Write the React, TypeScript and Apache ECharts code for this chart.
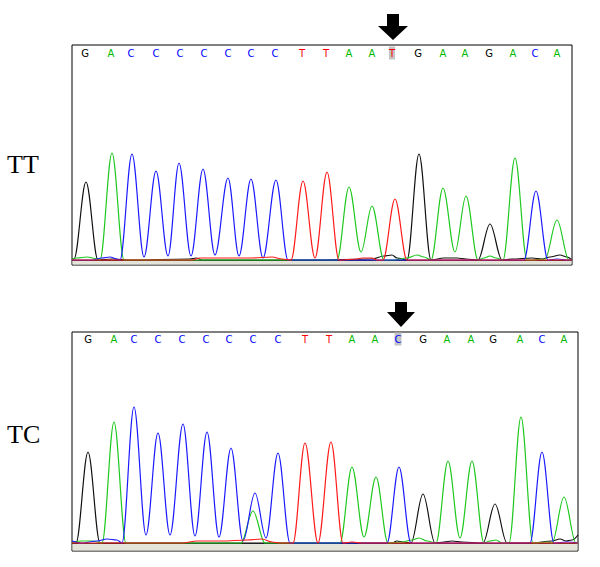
import React, { useEffect, useRef } from "react";
import * as echarts from "echarts";

// ---- Base calls ----
const topBases = ["G","A","C","C","C","C","C","C","C","T","T","A","A","T","G","A","A","G","A","C","A"];
const topBasePos = [13,39,59,84,108,132,156,179,203,230,254,277,300,320,346,371,393,417,441,463,485];
const topHighlight = 13;
const botBases = ["G","A","C","C","C","C","C","C","C","T","T","A","A","C","G","A","A","G","A","C","A"];
const botBasePos = [16,42,62,86,110,134,157,181,206,233,257,280,303,326,351,375,399,421,448,470,492];
const botHighlight = 13;

// ---- Top (TT) traces: [scan position, signal] ----
const topBlack = [[0,1],[2,1],[14,78],[26,0],[40,1],[60,0],[118,1],[124,2],[130,0],[200,0],[240,0],[300,1],[312,4],[320,5],[325,2],[335,0],[347,106],[359,0],[372,2],[385,2],[394,1],[406,0],[418,36],[430,0],[440,1],[460,2],[470,1],[478,3],[488,5],[495,3],[500,0]];
const topGreen = [[0,1],[5,2],[15,3],[26,1],[28,0],[40,107],[52,0],[60,0],[150,0],[200,0],[260,0],[265,0],[277,73],[289,8],[300,54],[312,0],[322,0],[335,2],[345,5],[352,3],[359,0],[371,72],[383,8],[394,64],[406,0],[412,2],[418,4],[424,2],[431,0],[443,102],[455,0],[460,0],[473,1],[485,40],[497,0],[500,0]];
const topBlue = [[0,0],[20,0],[30,2],[38,3],[45,1],[48,0],[60,106],[72,3],[84,89],[96,4],[107,97],[119,4],[131,91],[143,5],[156,82],[167,4],[179,81],[191,2],[204,80],[216,0],[300,0],[440,0],[452,0],[464,69],[476,0],[485,1],[495,0],[500,0]];
const topRed = [[0,0],[100,0],[120,0],[128,2],[180,2],[200,3],[210,1],[219,0],[231,79],[243,2],[255,88],[267,0],[285,1],[290,2],[300,2],[305,0],[311,0],[323,61],[335,0],[360,0],[500,0]];

// ---- Bottom (TC) traces ----
const botBlack = [[0,0],[4,0],[16,91],[28,0],[100,0],[200,0],[320,0],[325,2],[331,1],[339,0],[351,49],[363,0],[372,1],[380,2],[390,1],[411,0],[423,39],[435,0],[460,0],[480,2],[488,4],[494,2],[500,3],[506,8]];
const botGreen = [[0,1],[10,2],[20,2],[30,0],[42,121],[54,0],[120,0],[169,0],[181,32],[193,0],[200,0],[230,0],[260,0],[268,0],[280,76],[292,6],[304,66],[316,0],[330,1],[340,3],[347,5],[355,2],[364,0],[376,82],[388,5],[400,82],[412,0],[418,2],[424,3],[430,0],[437,0],[449,126],[461,0],[475,1],[480,0],[492,46],[504,0],[506,0]];
const botBlue = [[0,2],[10,0],[25,2],[35,4],[45,3],[50,0],[62,136],[74,8],[86,110],[98,8],[111,119],[123,7],[135,111],[147,6],[159,95],[171,2],[183,50],[194,5],[206,90],[218,0],[260,0],[300,0],[315,0],[327,76],[339,0],[380,0],[440,0],[458,0],[470,91],[482,0],[495,1],[506,0]];
const botRed = [[0,0],[110,0],[125,2],[150,2],[175,3],[190,4],[200,1],[208,0],[221,0],[233,100],[246,0],[259,101],[271,0],[280,1],[290,0],[506,0]];

const baseColor: Record<string, string> = { G: "#000000", A: "#00b800", C: "#0000ff", T: "#ff0000" };
const traceColor = { black: "#111111", green: "#1fc81f", blue: "#1a1aff", red: "#ff1a1a" };

export default function App() {
  const ref = useRef<HTMLDivElement>(null);
  useEffect(() => {
    if (!ref.current) return;
    const chart = echarts.init(ref.current, null, { renderer: "svg" });

    const line = (data: number[][], color: string, idx: number) => ({
      type: "line",
      xAxisIndex: idx,
      yAxisIndex: idx,
      data,
      showSymbol: false,
      symbol: "none",
      smooth: 0.35,
      smoothMonotone: "x",
      lineStyle: { color, width: 1.2 },
      z: 3,
    });

    const letters = (bases: string[], pos: number[], hl: number, y: number, idx: number) => ({
      type: "scatter",
      xAxisIndex: idx,
      yAxisIndex: idx,
      symbolSize: 1,
      itemStyle: { color: "rgba(0,0,0,0)" },
      z: 5,
      data: bases.map((b, i) => ({
        value: [pos[i], y],
        name: b,
        label: {
          show: true,
          position: "inside",
          formatter: b,
          color: baseColor[b],
          opacity: 1,
          textBorderWidth: 0,
          fontFamily: "DejaVu Sans",
          fontSize: 10,
          backgroundColor: i === hl ? "#c4c4c4" : "transparent",
          padding: i === hl ? [2, 0, 1, 0] : 0,
        },
      })),
    });

    const arrow = (cx: number, y0: number, y1: number, y2: number, sw: number, hw: number) => ({
      type: "polygon",
      shape: {
        points: [
          [cx - sw, y0], [cx + sw, y0], [cx + sw, y1], [cx + hw, y1],
          [cx, y2], [cx - hw, y1], [cx - sw, y1],
        ],
      },
      style: { fill: "#000" },
    });

    chart.setOption({
      animation: false,
      backgroundColor: "#ffffff",
      grid: [
        { left: 72, top: 45, width: 500, height: 220, show: true, borderColor: "#000", borderWidth: 1, backgroundColor: "#fff" },
        { left: 72, top: 332, width: 506, height: 219, show: true, borderColor: "#000", borderWidth: 1, backgroundColor: "#fff" },
      ],
      xAxis: [
        { type: "value", gridIndex: 0, min: 0, max: 500, show: false },
        { type: "value", gridIndex: 1, min: 0, max: 506, show: false },
      ],
      yAxis: [
        { type: "value", gridIndex: 0, min: -5, max: 215, show: false },
        { type: "value", gridIndex: 1, min: -8, max: 211, show: false },
      ],
      series: [
        line(topBlack, traceColor.black, 0),
        line(topGreen, traceColor.green, 0),
        line(topBlue, traceColor.blue, 0),
        line(topRed, traceColor.red, 0),
        line(botBlack, traceColor.black, 1),
        line(botGreen, traceColor.green, 1),
        line(botBlue, traceColor.blue, 1),
        line(botRed, traceColor.red, 1),
        letters(topBases, topBasePos, topHighlight, 207, 0),
        letters(botBases, botBasePos, botHighlight, 204, 1),
      ],
      graphic: [
        { type: "rect", shape: { x: 72.5, y: 261, width: 499, height: 3.5 }, style: { fill: "#e4e4da" }, z: 1 },
        { type: "rect", shape: { x: 72.5, y: 544, width: 505, height: 6.5 }, style: { fill: "#e4e4da" }, z: 1 },
        { type: "line", shape: { x1: 72, y1: 260.5, x2: 572, y2: 260.5 }, style: { stroke: "#333", lineWidth: 1 }, z: 2 },
        { type: "line", shape: { x1: 72, y1: 543.5, x2: 578, y2: 543.5 }, style: { stroke: "#333", lineWidth: 1 }, z: 2 },
        arrow(393, 14, 26, 40, 6, 15),
        arrow(401, 302, 312, 327, 6, 14),
        { type: "text", left: 7, top: 151, style: { text: "TT", font: "26px 'Liberation Serif'", fill: "#000" } },
        { type: "text", left: 7, top: 421, style: { text: "TC", font: "26px 'Liberation Serif'", fill: "#000" } },
      ],
    });
    return () => chart.dispose();
  }, []);
  return <div ref={ref} style={{ position: "fixed", left: 0, top: 0, width: 600, height: 567 }} />;
}
